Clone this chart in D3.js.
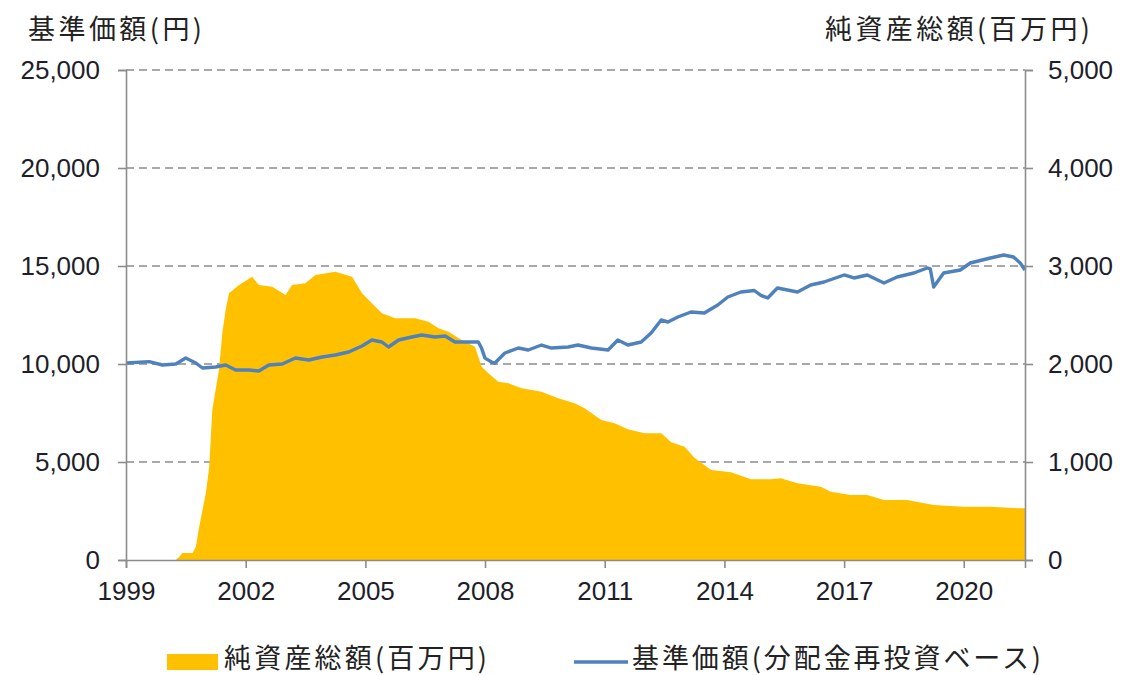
<!DOCTYPE html>
<html><head><meta charset="utf-8">
<script src="https://cdn.jsdelivr.net/npm/d3@7"></script>
<style>body{margin:0;background:#fff}</style>
</head><body><svg id="c" width="1128" height="676"></svg>
<script>
// 純資産総額(百万円) — right axis
const assetDates = ["2000-04","2000-05","2000-06","2000-09","2000-10","2000-11","2001-01","2001-02","2001-03","2001-05","2001-06","2001-07","2001-08","2001-11","2002-03","2002-05","2002-09","2003-01","2003-03","2003-07","2003-10","2004-04","2004-09","2004-12","2005-03","2005-06","2005-10","2006-04","2006-08","2006-11","2007-02","2007-06","2007-10","2007-12","2008-02","2008-05","2008-08","2008-12","2009-06","2009-11","2010-04","2010-07","2010-12","2011-04","2011-08","2012-01","2012-06","2012-09","2013-01","2013-04","2013-09","2014-03","2014-09","2015-03","2015-06","2015-11","2016-06","2016-09","2017-03","2017-08","2018-01","2018-08","2019-04","2020-01","2020-09","2021-06","2021-07"];
const assetValues = [0,30,71,71,133,337,684,949,1531,1939,2316,2551,2721,2806,2891,2806,2789,2704,2806,2823,2908,2942,2891,2721,2619,2517,2466,2466,2432,2364,2330,2245,2177,1973,1905,1820,1803,1752,1718,1650,1599,1548,1429,1395,1333,1293,1293,1202,1156,1044,918,896,823,823,833,782,748,697,663,663,612,612,561,544,544,527,527];

// 基準価額(分配金再投資ベース)(円) — left axis
const navDates = ["1999-01","1999-08","1999-12","2000-04","2000-07","2000-10","2000-12","2001-04","2001-07","2001-10","2002-02","2002-05","2002-08","2002-12","2003-04","2003-08","2003-12","2004-04","2004-08","2004-12","2005-03","2005-06","2005-08","2005-11","2006-03","2006-06","2006-10","2007-01","2007-04","2007-08","2007-11","2007-12","2008-01","2008-03","2008-04","2008-07","2008-11","2009-02","2009-06","2009-09","2010-02","2010-05","2010-09","2011-02","2011-05","2011-08","2011-12","2012-03","2012-06","2012-08","2012-11","2013-03","2013-07","2013-11","2014-02","2014-06","2014-10","2014-12","2015-02","2015-05","2015-11","2016-03","2016-07","2017-01","2017-04","2017-08","2018-01","2018-05","2018-10","2019-02","2019-03","2019-04","2019-07","2019-12","2020-03","2020-09","2021-01","2021-04","2021-06","2021-07"];
const navValues = [10050,10119,9949,10000,10306,10051,9796,9847,9949,9694,9694,9643,9949,10000,10306,10204,10357,10459,10612,10918,11224,11122,10867,11224,11378,11480,11378,11429,11122,11122,11122,10800,10300,10100,10050,10561,10816,10714,10969,10816,10867,10969,10816,10714,11224,10969,11122,11582,12245,12143,12398,12653,12602,13010,13418,13673,13750,13500,13370,13878,13673,14031,14184,14541,14388,14541,14133,14439,14643,14898,14850,13929,14643,14796,15153,15408,15561,15459,15153,14796];

const leftTicks = [0,5000,10000,15000,20000,25000];
const rightTicks = [0,1000,2000,3000,4000,5000];
const xTickYears = [1999,2002,2005,2008,2011,2014,2017,2020];
const leftTitle = "基準価額(円)";
const rightTitle = "純資産総額(百万円)";
const legendArea = "純資産総額(百万円)";
const legendLine = "基準価額(分配金再投資ベース)";

const L = 126, R = 1025, T = 70, B = 560;
const parse = d3.timeParse("%Y-%m");
const svg = d3.select("#c");
const numFont = "'Liberation Sans', Arial, sans-serif";
const jpFont = "'Noto Sans CJK JP', sans-serif";

const x = d3.scaleTime().domain([new Date(1999,0,1), new Date(2021,6,15)]).range([L, R]);
const yL = d3.scaleLinear().domain([0,25000]).range([B, T]);
const yR = d3.scaleLinear().domain([0,5000]).range([B, T]);

// grid
svg.append("g").selectAll("line").data(leftTicks.filter(d => d > 0)).join("line")
  .attr("x1", L).attr("x2", R).attr("y1", d => yL(d)).attr("y2", d => yL(d))
  .attr("stroke", "#8c8c8c").attr("stroke-width", 1.3).attr("stroke-dasharray", "8,5");

// area
const assetData = assetDates.map((d,i) => ({date: parse(d), v: assetValues[i]}));
assetData[assetData.length-1].date = x.domain()[1];
svg.append("path").datum(assetData)
  .attr("d", d3.area().x(d => x(d.date)).y0(yR(0)).y1(d => yR(d.v)))
  .attr("fill", "#FFC000");

// line
const navData = navDates.map((d,i) => ({date: parse(d), v: navValues[i]}));
navData[0].date = x.domain()[0];
navData[navData.length-1].date = x.domain()[1];
svg.append("path").datum(navData)
  .attr("d", d3.line().x(d => x(d.date)).y(d => yL(d.v)))
  .attr("fill", "none").attr("stroke", "#4F81BD").attr("stroke-width", 3.4).attr("stroke-linejoin", "round");

// axes
const axisColor = "#8c8c8c";
const gL = svg.append("g").attr("transform", `translate(${L},0)`)
  .call(d3.axisLeft(yL).tickValues(leftTicks).tickSize(8).tickPadding(18).tickFormat(d3.format(",")));
const gR = svg.append("g").attr("transform", `translate(${R},0)`)
  .call(d3.axisRight(yR).tickValues(rightTicks).tickSize(8).tickPadding(15).tickFormat(d3.format(",")));
const gX = svg.append("g").attr("transform", `translate(0,${B})`)
  .call(d3.axisBottom(x).tickValues(xTickYears.map(y => new Date(y,0,1))).tickSize(8).tickPadding(14).tickFormat(d3.timeFormat("%Y")));
[gL, gR, gX].forEach(g => {
  g.select(".domain").attr("stroke", axisColor).attr("stroke-width", 1.6);
  g.selectAll(".tick line").attr("stroke", axisColor).attr("stroke-width", 1.6);
  g.selectAll(".tick text").attr("fill", "#1e1e2a").attr("font-family", numFont).attr("font-size", 26);
});
gX.selectAll(".tick text").attr("dy", "0.71em");

// titles
function jpText(txt, xx, yy, len) {
  return svg.append("text").attr("x", xx).attr("y", yy).text(txt)
    .attr("font-family", jpFont).attr("font-size", 27).attr("fill", "#222")
    .attr("textLength", len).attr("lengthAdjust", "spacing");
}
jpText(leftTitle, 28, 39, 174);
jpText(rightTitle, 825, 39, 265);

// legend
const ly = 662;
svg.append("rect").attr("x", 167).attr("y", ly-8).attr("width", 51).attr("height", 16).attr("fill", "#FFC000");
jpText(legendArea, 224, ly+6, 263);
svg.append("line").attr("x1", 574).attr("x2", 628).attr("y1", ly).attr("y2", ly)
  .attr("stroke", "#4F81BD").attr("stroke-width", 3.4);
jpText(legendLine, 632, ly+6, 409);
</script>
</body></html>
